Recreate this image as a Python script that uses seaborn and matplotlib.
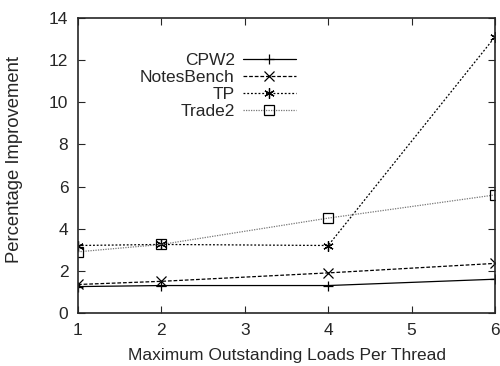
import pandas as pd
import seaborn as sns
import matplotlib
matplotlib.use("Agg")
import matplotlib.pyplot as plt

loads = [1, 2, 4, 6]
cpw2 = [1.25, 1.3, 1.3, 1.6]
notesbench = [1.35, 1.5, 1.9, 2.35]
tp = [3.2, 3.25, 3.2, 13.1]
trade2 = [2.9, 3.25, 4.5, 5.6]

series = {"CPW2": cpw2, "NotesBench": notesbench, "TP": tp, "Trade2": trade2}
styles = {
    "CPW2": dict(color="black", linestyle="-", marker="+"),
    "NotesBench": dict(color="black", linestyle=(0, (3, 1.5)), marker="x"),
    "TP": dict(color="black", linestyle=(0, (1.5, 1.5)), marker=(6, 2, 0)),
    "Trade2": dict(color="#777777", linestyle=(0, (1, 1)), marker="s",
                   markerfacecolor="none"),
}

rows = []
for name, vals in series.items():
    for x, y in zip(loads, vals):
        rows.append({"loads": x, "improvement": y, "bench": name})
df = pd.DataFrame(rows)

sns.set_style("ticks")
plt.rcParams["font.family"] = ["Liberation Sans", "DejaVu Sans"]
fs = 12.5

fig = plt.figure(figsize=(5, 3.66), dpi=100)
ax = fig.add_axes([0.156, 0.145, 0.834, 0.806])

for name in series:
    st = styles[name]
    sns.lineplot(data=df[df["bench"] == name], x="loads", y="improvement",
                 ax=ax, label=name, linewidth=0.9, markersize=7.5,
                 markeredgewidth=0.9, markeredgecolor="black", **st)

ax.set_xlim(1, 6)
ax.set_ylim(0, 14)
ax.set_xticks([1, 2, 3, 4, 5, 6])
ax.set_yticks(range(0, 15, 2))
ax.tick_params(direction="in", top=True, right=True, length=5, width=0.8,
               labelsize=fs, pad=7)
for s in ax.spines.values():
    s.set_linewidth(1.2)
    s.set_visible(True)
ax.set_xlabel("Maximum Outstanding Loads Per Thread", fontsize=fs)
ax.set_ylabel("Percentage Improvement", fontsize=13.3)
ax.xaxis.set_label_coords(0.5, -0.12)
ax.yaxis.set_label_coords(-0.133, 0.52)

leg = ax.legend(loc="upper left", bbox_to_anchor=(0.132, 0.905), frameon=False,
                markerfirst=False, handlelength=3.0, labelspacing=0.1,
                handletextpad=0.5, fontsize=fs, borderaxespad=0)
for t in leg.get_texts():
    t.set_ha("right")
leg._legend_box.align = "right"

fig.savefig("out.png", dpi=100)
